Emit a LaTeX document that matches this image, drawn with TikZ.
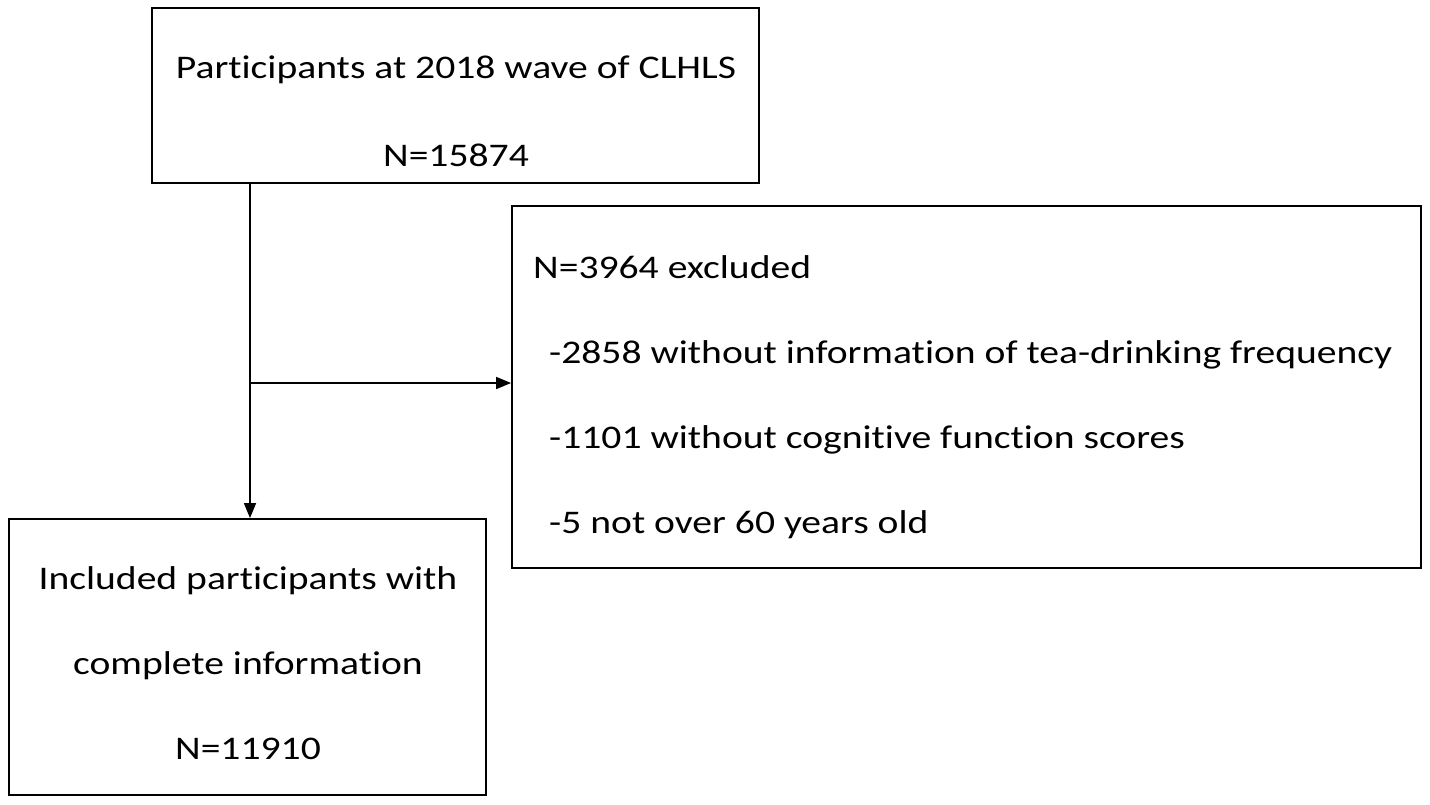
\documentclass[tikz,border=0pt]{standalone}
\usepackage{fontspec}
\setmainfont{Carlito}[FakeStretch=1.2, Ligatures={NoCommon}]
\usetikzlibrary{arrows.meta}
\begin{document}
\begin{tikzpicture}[x=1pt,y=-1pt,
  boxstyle/.style={draw, line width=1.8pt, inner sep=0pt},
  txt/.style={inner sep=0pt, font=\fontsize{33}{85}\selectfont},
  conn/.style={line width=1.6pt, -{Triangle[length=15pt,width=12pt]}}]
\useasboundingbox (0,0) rectangle (1430,804);
\node[boxstyle, minimum width=607pt, minimum height=175pt] (top) at (455.5,95.5) {};
\node[txt, align=center, font=\fontsize{33}{88}\selectfont] (toptext) at (456,111)
  {Participants at 2018 wave of CLHLS\\N=15874};
\node[boxstyle, minimum width=909pt, minimum height=362pt] (excl) at (966.5,387) {};
\node[txt, anchor=north west, align=left] (excltext) at (533,255)
  {N=3964 excluded\\
   \hspace{16pt}-2858 without information of tea-drinking frequency\\
   \hspace{16pt}-1101 without cognitive function scores\\
   \hspace{16pt}-5 not over 60 years old};
\node[boxstyle, minimum width=477pt, minimum height=276pt] (bot) at (247.5,657) {};
\node[txt, align=center] (bottext) at (248,663)
  {Included participants with\\complete information\\N=11910};
\coordinate (j) at (250,383);
\draw[conn] (top.south -| j) -- (bot.north -| j);
\draw[conn] (j) -- (excl.west |- j);
\end{tikzpicture}
\end{document}
